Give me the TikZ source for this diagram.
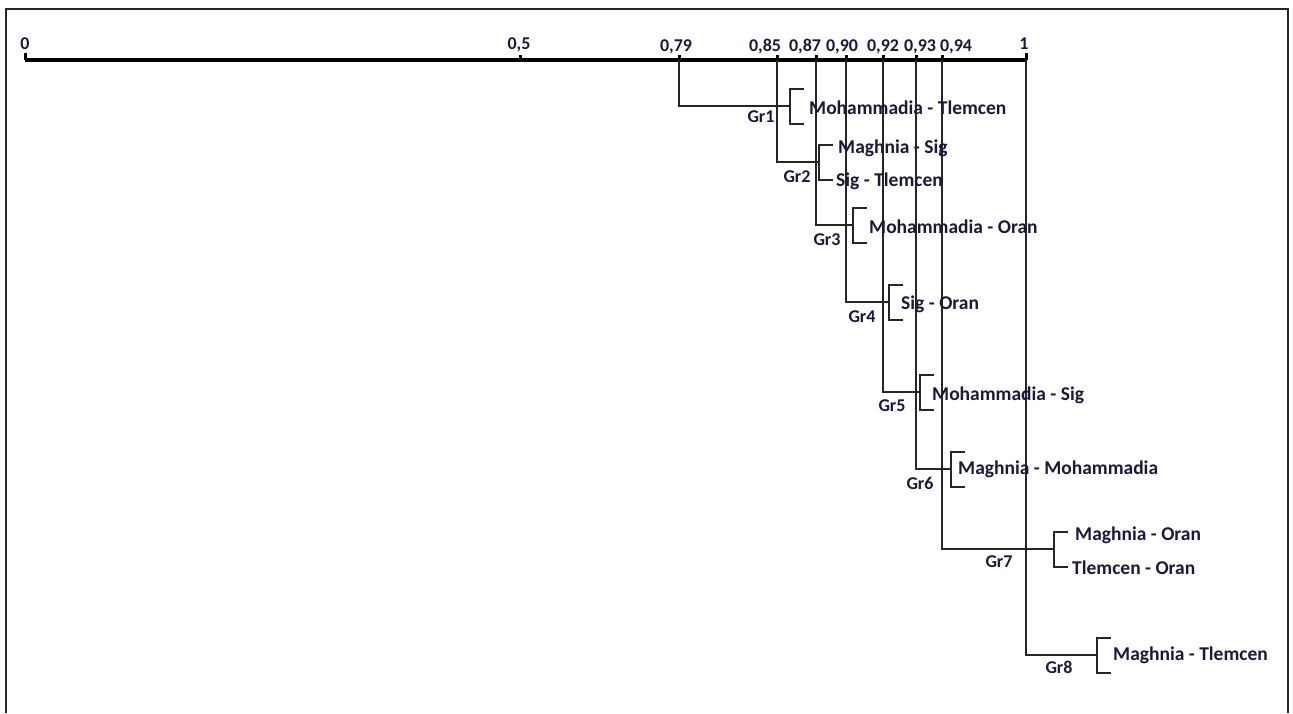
\documentclass[tikz,border=0pt]{standalone}
\usepackage{fontspec}
\setmainfont{Carlito}
\definecolor{txt}{RGB}{28,24,60}
\begin{document}
\begin{tikzpicture}[x=1pt,y=-1pt,
  lab/.style={font=\bfseries\fontsize{19.5}{22}\selectfont, text=txt, inner sep=0pt, anchor=west},
  grl/.style={font=\bfseries\fontsize{18}{20}\selectfont, text=txt, inner sep=0pt},
  axl/.style={font=\bfseries\fontsize{18}{20}\selectfont, text=txt, inner sep=0pt, anchor=base},
  den/.style={line width=1.1pt, black!85},
  axis/.style={line width=3.5pt, black},
  tk/.style={line width=3pt, black}]
\useasboundingbox (0,0) rectangle (1293,713);
\draw[line width=2pt, black!85] (6,713) -- (6,9) -- (1288,9) -- (1288,713);
% axis
\coordinate (a0) at (25,60);
\coordinate (a1) at (1026,60);
\draw[axis] (a0) -- (a1);
\draw[tk] (25,60) -- (25,53);
\draw[tk] (1026,60) -- (1026,53);
\foreach \x in {520,679,777,816,846,883,916,942}{\draw[tk] (\x,60) -- (\x,55);}
\node[axl] (l0) at (25,49) {0};
\node[axl] (l5) at (519,49) {0,5};
\node[axl] (l79) at (676,51) {0,79};
\node[axl] (l85) at (765,51) {0,85};
\node[axl] (l87) at (805,51) {0,87};
\node[axl] (l90) at (842,51) {0,90};
\node[axl] (l92) at (883,51) {0,92};
\node[axl] (l93) at (920,51) {0,93};
\node[axl] (l94) at (956,51) {0,94};
\node[axl] (l1) at (1024,49) {1};
% groups: x, yrow, bx
\foreach \n/\x/\y/\bx in {1/679/106/790, 2/777/162/819, 3/816/225/853, 4/846/302/889, 5/883/392/920, 6/916/469/951, 7/942/549/1054, 8/1026/655/1097}{
  \coordinate (t\n) at (\x,60);
  \coordinate (m\n) at (\bx,\y);
  \coordinate (bt\n) at (\bx,\y-17);
  \coordinate (bb\n) at (\bx,\y+18);
  \coordinate (et\n) at (\bx+14,\y-17);
  \coordinate (eb\n) at (\bx+14,\y+18);
  \draw[den] (t\n) |- (m\n);
  \draw[den] (et\n) -- (bt\n) -- (bb\n) -- (eb\n);
}
\node[lab] (n1) at (809,108) {Mohammadia - Tlemcen};
\node[lab] (n2a) at (838,148) {Maghnia - Sig};
\node[lab] (n2b) at (836,181) {Sig - Tlemcen};
\node[lab] (n3) at (869,227) {Mohammadia - Oran};
\node[lab] (n4) at (901,304) {Sig - Oran};
\node[lab] (n5) at (932,395) {Mohammadia - Sig};
\node[lab] (n6) at (958,469) {Maghnia - Mohammadia};
\node[lab] (n7a) at (1075,535) {Maghnia - Oran};
\node[lab] (n7b) at (1072,568) {Tlemcen - Oran};
\node[lab] (n8) at (1113,655) {Maghnia - Tlemcen};
\node[grl] (g1) at (761,117) {Gr1};
\node[grl] (g2) at (797,177) {Gr2};
\node[grl] (g3) at (827,240) {Gr3};
\node[grl] (g4) at (862,317) {Gr4};
\node[grl] (g5) at (892,406) {Gr5};
\node[grl] (g6) at (920,483) {Gr6};
\node[grl] (g7) at (999,562) {Gr7};
\node[grl] (g8) at (1059,667) {Gr8};
\end{tikzpicture}
\end{document}
